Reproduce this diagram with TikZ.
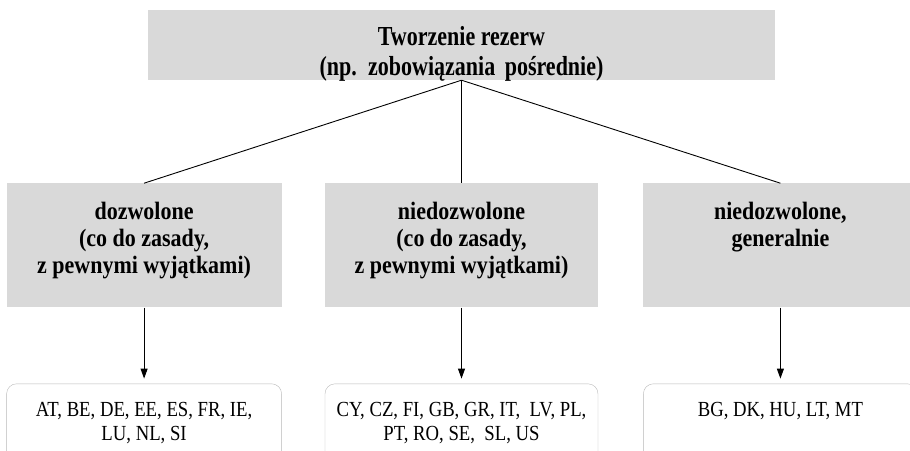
\documentclass[tikz,border=0pt]{standalone}
\usepackage{fontspec}
\setmainfont{Liberation Serif}
\newfontfamily\rootfont[FakeStretch=0.8]{Liberation Serif}
\newfontfamily\catfont[FakeStretch=0.88]{Liberation Serif}
\newfontfamily\listfont[FakeStretch=0.87]{Liberation Serif}
\usetikzlibrary{arrows.meta, positioning}

\begin{document}
\begin{tikzpicture}[
  x=1pt, y=-1pt,
  shade/.style={fill=black!15, inner sep=0pt},
  roottext/.style={align=center, inner sep=0pt,
                   font=\rootfont\bfseries\fontsize{27.5}{30}\selectfont},
  cattext/.style={align=center, inner sep=0pt,
                  font=\catfont\bfseries\fontsize{25}{27}\selectfont},
  list/.style={draw=black!28, fill=white, rounded corners=10pt, inner sep=0pt,
               minimum height=80pt},
  listtext/.style={align=center, inner sep=0pt,
                   font=\listfont\fontsize{21.5}{24.5}\selectfont},
  link/.style={line width=0.9pt},
  arr/.style={-{Triangle[length=10pt, width=7pt]}, line width=0.9pt,
              shorten >=5pt}]

  \useasboundingbox (0,0) rectangle (910,450);

  % root
  \node[shade, minimum width=627pt, minimum height=70pt] (top) at (461.5,45) {};
  \node[roottext, below=16pt of top.north] (toptext)
    {Tworzenie rezerw\\ (np.\hspace{4pt} zobowiązania\hspace{4pt} pośrednie)};

  % categories
  \node[shade, minimum width=273pt, minimum height=124pt, below=103pt of top]
    (notallowed) {};
  \node[shade, minimum width=275pt, minimum height=124pt, left=43pt of notallowed]
    (allowed) {};
  \node[shade, minimum width=274pt, minimum height=124pt, right=45pt of notallowed]
    (banned) {};
  \node[cattext, below=19pt of allowed.north] (allowedt)
    {dozwolone\\ (co do zasady,\\ z pewnymi wyjątkami)};
  \node[cattext, below=19pt of notallowed.north] (notallowedt)
    {niedozwolone\\ (co do zasady,\\ z pewnymi wyjątkami)};
  \node[cattext, below=19pt of banned.north] (bannedt)
    {niedozwolone,\\ generalnie};

  % countries
  \node[list, minimum width=275pt, below=76pt of allowed] (allowedc) {};
  \node[list, minimum width=273pt, below=76pt of notallowed] (notallowedc) {};
  \node[list, minimum width=274pt, below=76pt of banned] (bannedc) {};
  \node[listtext, below=18pt of allowedc.north] (allowedl)
    {AT, BE, DE, EE, ES, FR, IE,\\ LU, NL, SI};
  \node[listtext, below=18pt of notallowedc.north] (notallowedl)
    {CY, CZ, FI, GB, GR, IT, \ LV, PL,\\ PT, RO, SE, \ SL, US};
  \node[listtext, below=18pt of bannedc.north] (bannedl)
    {BG, DK, HU, LT, MT};

  % connectors
  \draw[link] (top.south) -- (allowed.north);
  \draw[link] (top.south) -- (notallowed.north);
  \draw[link] (top.south) -- (banned.north);
  \draw[arr] (allowed) -- (allowedc);
  \draw[arr] (notallowed) -- (notallowedc);
  \draw[arr] (banned) -- (bannedc);
\end{tikzpicture}
\end{document}
